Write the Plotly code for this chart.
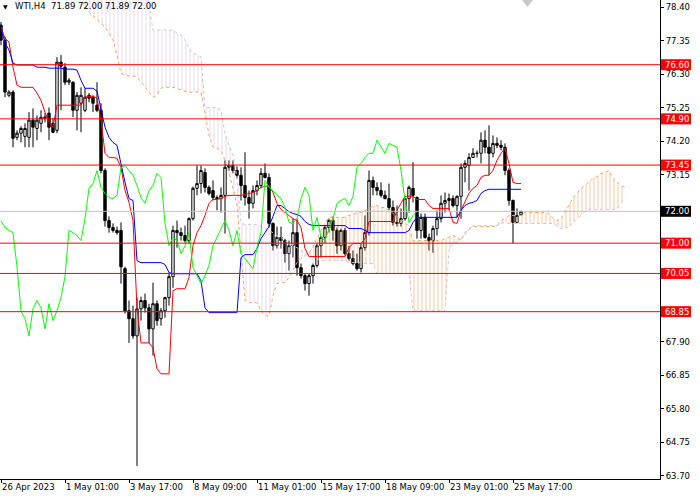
import plotly.graph_objects as go

# WTI, H4 candles (26 Apr - 25 May 2023)
opens = [77.84, 77.37, 75.64, 75.74, 74.32, 74.45, 74.35, 74.32, 74.86, 74.60,
         74.76, 74.92, 75.08, 74.76, 74.54, 76.68, 76.52, 76.05, 76.05, 75.17,
         75.39, 75.17, 75.64, 75.58, 75.33, 75.17, 73.28, 71.71, 71.49, 71.40,
         71.40, 70.20, 68.88, 68.63, 68.09, 68.94, 69.20, 68.97, 68.31, 69.10,
         68.63, 68.88, 69.29, 69.95, 71.40, 71.33, 71.24, 71.08, 71.77, 72.72,
         72.87, 73.22, 72.75, 72.65, 72.43, 72.40, 72.50, 73.38, 73.44, 73.28,
         73.13, 72.81, 72.43, 72.25, 72.65, 72.81, 73.19, 73.06, 71.62, 70.92,
         71.18, 71.08, 70.67, 70.92, 71.33, 70.23, 69.98, 69.73, 69.98, 70.30,
         70.92, 71.18, 71.49, 71.71, 71.40, 70.92, 71.40, 70.67, 70.52, 70.36,
         70.20, 70.86, 71.33, 72.97, 72.75, 72.65, 72.50, 72.40, 72.12, 71.65,
         71.62, 71.77, 72.40, 72.72, 72.43, 71.40, 71.81, 71.18, 71.08, 71.46,
         71.77, 72.25, 72.34, 72.40, 72.18, 72.47, 73.38, 73.44, 73.69, 73.82,
         73.82, 74.23, 74.01, 73.82, 74.13, 74.07, 74.01, 73.28, 72.34, 71.65,
         71.89]
highs = [77.94, 77.47, 75.80, 75.80, 74.54, 74.67, 74.76, 75.11, 75.23, 75.01,
         75.17, 75.08, 75.26, 74.92, 76.84, 76.90, 76.65, 76.18, 76.08, 75.74,
         75.89, 75.86, 75.71, 75.64, 76.05, 75.39, 73.35, 71.84, 71.62, 71.52,
         71.65, 70.26, 69.20, 69.04, 69.29, 69.32, 69.42, 69.10, 69.76, 69.20,
         68.97, 69.32, 70.08, 71.55, 71.71, 71.49, 71.55, 71.81, 72.78, 73.44,
         73.44, 73.35, 72.81, 72.97, 72.50, 72.75, 73.60, 73.60, 73.60, 73.41,
         73.38, 73.85, 72.65, 72.81, 72.97, 73.35, 73.50, 73.19, 71.65, 71.52,
         71.52, 71.14, 71.08, 71.77, 71.77, 70.36, 70.04, 70.04, 70.36, 70.99,
         71.24, 71.55, 71.77, 71.84, 71.49, 71.46, 71.49, 70.92, 70.77, 70.67,
         70.99, 71.87, 73.28, 73.09, 72.91, 72.91, 72.65, 72.87, 72.34, 72.18,
         72.09, 72.43, 72.81, 73.54, 72.47, 71.93, 71.93, 71.30, 71.55, 72.03,
         72.50, 72.59, 72.56, 72.50, 72.50, 73.50, 73.60, 73.82, 73.98, 73.91,
         74.48, 74.54, 74.70, 74.38, 74.32, 74.23, 74.13, 73.35, 72.37, 72.09,
         72.00]
lows = [77.21, 75.58, 75.58, 74.01, 74.23, 74.16, 74.01, 74.01, 74.01, 74.23,
        74.48, 74.79, 74.23, 74.45, 74.45, 75.17, 75.96, 75.96, 74.95, 74.54,
        74.48, 75.11, 75.42, 75.11, 75.11, 73.19, 71.52, 71.33, 71.33, 71.27,
        69.73, 68.79, 67.87, 68.00, 64.01, 68.57, 68.82, 67.87, 67.47, 68.41,
        68.41, 68.66, 69.04, 69.60, 70.86, 71.08, 71.02, 70.99, 71.71, 72.50,
        72.56, 72.59, 72.50, 72.34, 72.03, 71.96, 71.30, 73.28, 73.19, 73.03,
        72.34, 72.18, 71.77, 72.09, 72.50, 72.72, 73.03, 71.49, 70.77, 70.83,
        70.83, 70.39, 70.14, 70.55, 69.98, 69.89, 69.51, 69.35, 69.73, 70.23,
        70.55, 70.99, 71.33, 71.08, 70.67, 70.77, 70.61, 70.45, 70.30, 70.14,
        70.08, 70.77, 71.24, 72.50, 72.50, 72.43, 72.37, 72.03, 71.55, 71.52,
        71.52, 71.71, 71.96, 72.28, 71.14, 71.14, 71.14, 70.77, 70.70, 71.24,
        71.65, 71.96, 72.03, 72.12, 71.81, 71.77, 72.91, 72.65, 73.69, 73.69,
        73.50, 73.82, 73.13, 73.69, 73.98, 73.91, 73.13, 72.18, 70.99, 71.62,
        71.89]
closes = [77.37, 75.74, 75.74, 74.29, 74.45, 74.60, 74.60, 74.86, 74.64, 74.86,
          74.95, 74.95, 74.64, 74.48, 76.68, 76.55, 76.05, 76.11, 75.17, 75.64,
          75.64, 75.58, 75.55, 75.39, 75.17, 73.28, 71.71, 71.49, 71.40, 71.33,
          70.26, 68.88, 68.63, 68.09, 68.94, 69.20, 68.97, 68.31, 69.10, 68.57,
          68.88, 69.29, 69.95, 71.40, 71.33, 71.24, 71.08, 71.77, 72.72, 72.87,
          73.28, 72.75, 72.56, 72.43, 72.40, 72.50, 73.38, 73.44, 73.28, 73.13,
          72.81, 72.43, 72.25, 72.65, 72.81, 73.19, 73.06, 71.62, 70.92, 71.18,
          71.08, 70.67, 70.92, 71.33, 70.23, 69.98, 69.73, 69.98, 70.30, 70.92,
          71.18, 71.49, 71.71, 71.40, 70.92, 71.40, 70.67, 70.52, 70.36, 70.20,
          70.86, 71.33, 72.97, 72.75, 72.65, 72.50, 72.40, 72.12, 71.65, 71.62,
          71.77, 72.40, 72.75, 72.50, 71.40, 71.81, 71.18, 71.08, 71.46, 71.77,
          72.25, 72.34, 72.40, 72.18, 72.47, 73.38, 73.50, 73.69, 73.82, 73.82,
          74.23, 74.01, 73.82, 74.13, 74.07, 74.01, 73.28, 72.34, 71.65, 71.87,
          72.00]

# Ichimoku lines as drawn
tenkan = [77.78, 77.43, 77.31, 76.52, 75.96, 75.89, 75.89, 75.89, 75.89, 75.71,
          75.48, 75.11, 74.79, 74.64, 75.33, 75.33, 75.33, 75.33, 75.33, 75.33,
          75.33, 75.58, 75.61, 75.61, 75.55, 74.86, 73.82, 73.69, 73.69, 73.66,
          73.38, 72.65, 72.28, 71.71, 68.97, 67.87, 67.87, 67.87, 67.72, 67.06,
          66.90, 66.90, 66.90, 69.51, 69.57, 69.57, 69.57, 69.92, 70.92, 71.33,
          71.55, 71.87, 72.25, 72.37, 72.37, 72.40, 72.47, 72.50, 72.50, 72.50,
          72.50, 72.53, 72.56, 72.59, 72.65, 72.75, 72.78, 72.81, 72.59, 72.25,
          72.06, 71.96, 71.84, 71.77, 71.71, 71.49, 70.83, 70.58, 70.58, 70.58,
          70.58, 70.58, 70.58, 70.58, 70.58, 70.58, 70.58, 70.86, 70.99, 70.99,
          70.99, 71.14, 71.68, 71.68, 71.68, 71.68, 71.68, 71.68, 71.68, 72.03,
          72.25, 72.47, 72.47, 72.47, 72.37, 72.37, 72.37, 72.18, 72.09, 72.09,
          72.09, 72.09, 72.09, 71.65, 71.62, 72.03, 72.28, 72.56, 72.72, 72.81,
          73.06, 73.13, 73.13, 73.28, 73.60, 73.82, 73.98, 73.50, 72.91, 72.87,
          72.87]
kijun = [77.75, 77.28, 77.06, 76.65, 76.59, 76.59, 76.59, 76.59, 76.59, 76.52,
         76.52, 76.52, 76.49, 76.49, 76.49, 76.49, 76.46, 76.46, 76.46, 76.43,
         76.11, 75.86, 75.86, 75.86, 75.77, 75.17, 74.64, 74.32, 74.16, 74.07,
         73.44, 72.91, 72.40, 72.34, 70.45, 70.39, 70.39, 70.39, 70.39, 70.39,
         70.39, 70.33, 70.08, 70.04, 70.04, 70.04, 70.04, 70.04, 70.04, 70.04,
         69.82, 68.97, 68.82, 68.82, 68.82, 68.82, 68.82, 68.82, 68.82, 68.82,
         70.55, 70.64, 70.64, 70.64, 70.83, 71.14, 71.33, 71.52, 71.84, 72.18,
         72.18, 72.09, 71.99, 71.93, 71.90, 71.84, 71.68, 71.59, 71.55, 71.55,
         71.55, 71.55, 71.55, 71.55, 71.55, 71.55, 71.55, 71.46, 71.46, 71.46,
         71.46, 71.40, 71.33, 71.33, 71.33, 71.33, 71.33, 71.33, 71.33, 71.33,
         71.33, 71.33, 71.40, 71.65, 71.81, 71.81, 71.81, 71.81, 71.81, 71.81,
         71.81, 71.81, 71.81, 71.81, 71.81, 72.03, 72.18, 72.25, 72.28, 72.34,
         72.56, 72.65, 72.69, 72.69, 72.69, 72.69, 72.69, 72.69, 72.69, 72.69,
         72.69]
# spans run 26 bars past the last candle; None = not on screen
span_a = [None] * 20 + [
    78.76, 78.38, 78.25, 78.13, 78.00, 77.91, 77.78, 77.59, 77.37, 76.90,
    76.33, 76.27, 76.24, 76.24, 76.21, 76.05, 75.89, 75.74, 75.58, 75.64,
    75.86, 75.89, 75.89, 75.89, 75.86, 75.80, 75.77, 75.74, 75.74, 75.74,
    75.74, 75.08, 74.38, 74.01, 73.98, 73.91, 73.60, 73.22, 72.65, 72.18,
    70.77, 69.20, 69.13, 69.13, 69.13, 68.88, 68.72, 68.72, 69.35, 69.73,
    69.76, 69.76, 69.92, 70.14, 70.39, 70.52, 70.61, 70.70, 70.89, 71.14,
    71.40, 71.65, 71.81, 71.81, 71.81, 71.81, 71.81, 71.87, 71.90, 71.96,
    71.96, 72.03, 72.09, 72.15, 72.18, 72.12, 72.12, 72.03, 71.93, 71.84,
    71.74, 71.65, 71.52, 71.08, 71.08, 71.08, 71.08, 71.08, 71.08, 71.08,
    71.08, 71.14, 71.18, 71.24, 71.18, 71.08, 71.33, 71.46, 71.52, 71.52,
    71.52, 71.52, 71.52, 71.52, 71.55, 71.71, 71.77, 71.87, 71.87, 71.87,
    71.87, 71.96, 71.96, 71.96, 71.96, 71.96, 71.96, 71.93, 71.77, 71.71,
    71.77, 71.96, 72.18, 72.43, 72.56, 72.72, 72.81, 72.91, 73.03, 73.09,
    73.19, 73.22, 73.28, 73.03, 72.91, 72.81, 72.75]
span_b = [None] * 20 + [
    79.10, 79.10, 79.10, 79.10, 79.10, 79.10, 79.10, 79.10, 79.10, 79.10,
    79.10, 79.10, 79.10, 79.10, 79.10, 79.10, 79.10, 78.47, 77.69, 77.69,
    77.69, 77.69, 77.69, 77.69, 77.59, 77.53, 77.37, 77.12, 76.96, 76.90,
    76.84, 75.26, 75.26, 75.26, 75.26, 75.17, 74.45, 74.07, 73.76, 73.06,
    71.62, 71.59, 71.59, 71.59, 71.59, 71.52, 71.46, 71.40, 71.33, 71.24,
    71.18, 71.08, 70.99, 70.92, 70.86, 70.77, 70.70, 70.64, 70.58, 70.52,
    70.45, 70.45, 70.45, 70.45, 70.45, 70.45, 70.45, 70.39, 70.39, 70.39,
    70.39, 70.36, 70.36, 70.36, 70.04, 70.04, 70.04, 70.04, 70.04, 70.04,
    70.04, 70.04, 70.04, 68.88, 68.88, 68.88, 68.88, 68.88, 68.88, 68.88,
    68.88, 68.88, 70.77, 70.99, 71.02, 71.14, 71.27, 71.43, 71.55, 71.55,
    71.55, 71.55, 71.55, 71.55, 71.55, 71.62, 71.65, 71.62, 71.62, 71.62,
    71.62, 71.62, 71.62, 71.62, 71.62, 71.62, 71.62, 71.62, 71.62, 71.55,
    71.46, 71.49, 71.49, 71.65, 71.77, 71.87, 71.99, 72.06, 72.06, 72.06,
    72.06, 72.06, 72.06, 72.06, 72.06, 72.25, 72.40]

levels = [76.60, 74.90, 73.45, 71.00, 70.05, 68.85]
bid = 72.00
# scale marks; the ones under the level boxes carry no text
price_ticks = [78.40, 77.35, 76.30, 75.25, 74.20, 73.15, 72.10, 71.05,
               70.00, 68.95, 67.90, 66.85, 65.80, 64.75, 63.70]
hidden_ticks = [72.10, 71.05, 70.00, 68.95]
time_labels = ["26 Apr 2023", "1 May 01:00", "3 May 17:00", "8 May 09:00",
               "11 May 01:00", "15 May 17:00", "18 May 09:00", "23 May 01:00",
               "25 May 17:00"]
title = "WTI,H4  71.89 72.00 71.89 72.00"

FONT = "DejaVu Sans"
SAND = "#F4A460"
THISTLE = "#D8BFD8"
SHIFT = 26

bars = list(range(len(closes)))


def cloud_runs(a, b):
    # split the cloud where span A and span B swap places
    runs, start, cur = [], None, None
    for i in range(len(a)):
        if a[i] is None or b[i] is None:
            continue
        up = a[i] >= b[i]
        if start is None:
            start, cur = i, up
        elif up != cur:
            runs.append((start, i, cur))
            start, cur = i, up
    runs.append((start, len(a) - 1, cur))
    return runs


fig = go.Figure()

for s, e, up in cloud_runs(span_a, span_b):
    xs = list(range(s, e + 1)) + list(range(e, s - 1, -1))
    ys = span_a[s:e + 1] + span_b[s:e + 1][::-1]
    col = SAND if up else THISTLE
    fig.add_trace(go.Scatter(x=xs, y=ys, mode="lines", line=dict(width=0),
                             fill="toself", fillcolor="rgba(0,0,0,0)",
                             fillpattern=dict(shape="|", fgcolor=col, bgcolor="rgba(0,0,0,0)",
                                              size=4, solidity=0.3),
                             hoverinfo="skip"))

span_x = list(range(len(span_a)))
fig.add_trace(go.Scatter(x=span_x, y=span_a, mode="lines",
                         line=dict(color=SAND, width=1, dash="dot")))
fig.add_trace(go.Scatter(x=span_x, y=span_b, mode="lines",
                         line=dict(color=THISTLE, width=1, dash="dot")))

fig.add_trace(go.Candlestick(
    x=bars, open=opens, high=highs, low=lows, close=closes,
    increasing=dict(line=dict(color="black", width=1), fillcolor="white"),
    decreasing=dict(line=dict(color="black", width=1), fillcolor="black"),
    whiskerwidth=0))

fig.add_trace(go.Scatter(x=bars, y=tenkan, mode="lines", line=dict(color="#FF0000", width=1)))
fig.add_trace(go.Scatter(x=bars, y=kijun, mode="lines", line=dict(color="#0000FF", width=1)))
fig.add_trace(go.Scatter(x=[i - SHIFT for i in bars[SHIFT:]], y=closes[SHIFT:], mode="lines",
                         line=dict(color="#00FF00", width=1)))

# horizontal levels with price boxes on the scale
for lv in levels:
    fig.add_shape(type="line", xref="paper", x0=0, x1=1, yref="y", y0=lv, y1=lv,
                  line=dict(color="#FF0000", width=1))
fig.add_shape(type="line", xref="paper", x0=0, x1=1, yref="y", y0=bid, y1=bid,
              line=dict(color="#C0C0C0", width=1))

for lv, bg in [(v, "#FF0000") for v in levels] + [(bid, "black")]:
    fig.add_shape(type="rect", xref="paper", xsizemode="pixel", xanchor=1, x0=1, x1=31,
                  yref="y", ysizemode="pixel", yanchor=lv, y0=-5.5, y1=5.5,
                  fillcolor=bg, line=dict(width=0), layer="above")
    fig.add_annotation(x=1, xref="paper", xanchor="left", xshift=3, y=lv, yref="y",
                       yanchor="middle", text=f"{lv:.2f}", showarrow=False,
                       font=dict(family=FONT, size=8.5, color="white"))

# chart header
fig.add_annotation(x=0, xref="paper", xanchor="left", xshift=1, y=1, yref="paper",
                   yanchor="top", yshift=-1, text="▼", showarrow=False,
                   font=dict(family=FONT, size=6, color="black"))
fig.add_annotation(x=0, xref="paper", xanchor="left", xshift=13, y=1, yref="paper",
                   yanchor="top", yshift=1, text=title, showarrow=False,
                   font=dict(family=FONT, size=8.5, color="black"))
# chart shift marker
fig.add_shape(type="path", xref="paper", yref="paper",
              path="M 0.7909 1 L 0.8076 1 L 0.7992 0.9854 Z",
              fillcolor="#C8C8C8", line=dict(width=0))

fig.update_layout(
    width=700, height=500,
    margin=dict(l=0, r=40, t=0, b=21),
    paper_bgcolor="white", plot_bgcolor="white",
    showlegend=False, boxgap=0.15,
    font=dict(family=FONT, size=8.5, color="black"),
)
fig.update_xaxes(
    range=[-0.25, 164.75], automargin=False,
    tickvals=list(range(0, 16 * len(time_labels), 16)), ticktext=time_labels,
    tickangle=0, ticks="outside", ticklen=3, tickcolor="black",
    ticklabelposition="outside right",
    showline=True, linecolor="black", linewidth=1,
    showgrid=False, zeroline=False, rangeslider=dict(visible=False),
)
fig.update_yaxes(
    side="right", range=[63.60, 78.63], automargin=False,
    tickvals=price_ticks,
    ticktext=["" if v in hidden_ticks else f"{v:.2f}" for v in price_ticks],
    ticks="outside", ticklen=3, tickcolor="black",
    showline=True, linecolor="black", linewidth=1,
    showgrid=False, zeroline=False,
)

fig.write_html("out.html", config={"displayModeBar": False},
               post_script="document.body.style.margin='0';")
